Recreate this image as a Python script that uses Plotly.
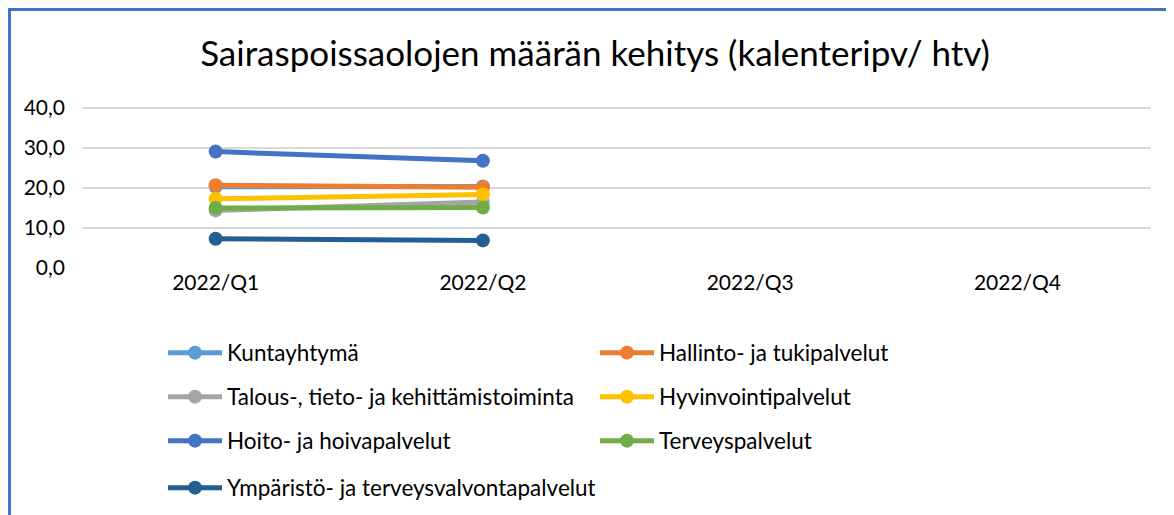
import plotly.graph_objects as go

categories = ["2022/Q1", "2022/Q2", "2022/Q3", "2022/Q4"]
series_names = [
    "Kuntayhtymä",
    "Hallinto- ja tukipalvelut",
    "Talous-, tieto- ja kehittämistoiminta",
    "Hyvinvointipalvelut",
    "Hoito- ja hoivapalvelut",
    "Terveyspalvelut",
    "Ympäristö- ja terveysvalvontapalvelut",
]
kuntayhtyma = [20.3, 20.4, None, None]
hallinto = [20.7, 20.2, None, None]
talous = [14.4, 16.5, None, None]
hyvinvointi = [17.3, 18.4, None, None]
hoito = [29.1, 26.8, None, None]
terveys = [15.0, 15.1, None, None]
ymparisto = [7.3, 6.9, None, None]
series_values = [kuntayhtyma, hallinto, talous, hyvinvointi, hoito, terveys, ymparisto]
colors = ["#5B9BD5", "#ED7D31", "#A5A5A5", "#FFC000", "#4472C4", "#70AD47", "#255E91"]
y_ticks = [0, 10, 20, 30, 40]
y_tick_labels = ["0,0", "10,0", "20,0", "30,0", "40,0"]

W, H = 1174, 515
OFF = 8  # page body margin
# plot area in figure pixels
L, R = 82 - OFF, 1151 - OFF
B = 268 - OFF
YMAX = 41.0
T = B - 4.0 * YMAX

def px_x(screen):
    return (screen - OFF - L) / (R - L)

def px_y(screen):
    return (B - (screen - OFF)) / (B - T)

fig = go.Figure()
row_y = [353, 397, 441, 488]
for i, (name, vals, col) in enumerate(zip(series_names, series_values, colors)):
    leg = "legend" if i // 2 == 0 else f"legend{i // 2 + 1}"
    fig.add_trace(go.Scatter(
        x=categories, y=vals, name=name, mode="lines+markers",
        line=dict(color=col, width=5),
        marker=dict(color=col, size=14),
        legend=leg,
    ))

font_family = "Lato, Open Sans, sans-serif"
legend_common = dict(
    orientation="h", xanchor="left", yanchor="middle",
    x=px_x(163), entrywidth=363, entrywidthmode="pixels",
    font=dict(family=font_family, size=22.5, color="#000000"),
    bgcolor="rgba(0,0,0,0)", itemwidth=54,
)
layout_legends = {}
for r, yy in enumerate(row_y):
    key = "legend" if r == 0 else f"legend{r + 1}"
    layout_legends[key] = dict(legend_common, y=px_y(yy))

fig.update_layout(
    width=W, height=H,
    margin=dict(l=L, r=W - R, t=T, b=H - B, autoexpand=False),
    paper_bgcolor="white", plot_bgcolor="white",
    title=dict(text="Sairaspoissaolojen määrän kehitys (kalenteripv/ htv)",
               x=587 / W, xanchor="center", y=1 - 46 / H, yanchor="middle",
               font=dict(family=font_family, size=35, color="#000000")),
    xaxis=dict(type="category", categoryorder="array", categoryarray=categories,
               range=[-0.5, 3.5], showgrid=False, showline=False, ticks="",
               tickfont=dict(family=font_family, size=21, color="#000000"),
               fixedrange=True),
    yaxis=dict(range=[0, YMAX], tickvals=y_ticks, ticktext=y_tick_labels,
               showgrid=True, gridcolor="#D9D9D9", gridwidth=1.5,
               zeroline=False, showline=False, ticks="", ticklabelstandoff=16,
               tickfont=dict(family=font_family, size=21, color="#000000")),
    shapes=[dict(type="rect", xref="paper", yref="paper",
                 x0=px_x(9.5), x1=px_x(1190), y0=px_y(540), y1=px_y(9.5),
                 line=dict(color="#4472C4", width=3), fillcolor="rgba(0,0,0,0)",
                 layer="above")],
    **layout_legends,
)
fig.write_html("out.html")
